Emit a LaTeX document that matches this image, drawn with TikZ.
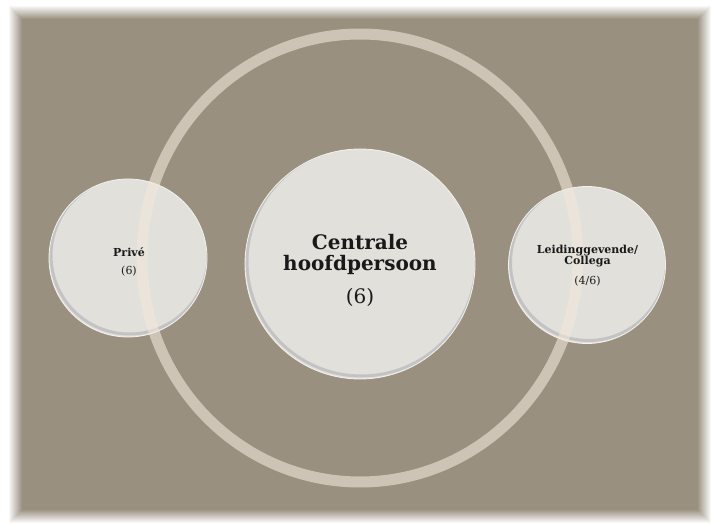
\documentclass[tikz,border=0pt]{standalone}
\usepackage{fontspec}
\setmainfont{DejaVu Serif}
\usepackage{tikz}
\definecolor{achter}{RGB}{154,144,128}
\definecolor{bol}{RGB}{226,224,219}
\definecolor{rand}{RGB}{244,242,236}
\definecolor{schaduw}{RGB}{165,165,176}
\definecolor{kring}{RGB}{240,232,218}
\tikzset{
bubble/.style={circle,minimum size=#1,inner sep=0pt,fill=bol,draw=rand,line width=.8pt,
  path picture={\draw[schaduw,line width=3pt,opacity=.5] ([xshift=1.5pt,yshift=2.5pt]path picture bounding box.center) circle [radius=#1/2-.5pt];}},
kringlijn/.style={draw=kring,line width=11pt,draw opacity=.6},
tekst/.style={align=center,inner sep=0pt,text=black!90},
groot/.style={tekst,font=\fontsize{20}{21.5}\selectfont},
klein/.style={tekst,font=\fontsize{11}{11.5}\selectfont}
}

\begin{document}
\begin{tikzpicture}[x=1pt,y=-1pt]
\useasboundingbox (0,0) rectangle (712,524);
% achtergrond met vage rand
\fill[white] (0,0) rectangle (712,524);
\fill[achter] (8,5) rectangle (712,524);
\foreach \d [evaluate=\d as \o using 1-\d/14] in {0,...,13}
  \draw[white,opacity=\o,line width=1pt] (8.5+\d,5.5+\d) rectangle (711.5-\d,523.5-\d);

\node[bubble=230pt] (centraal) at (360,264) {};
\node[bubble=158pt] (prive) at (128,258) {};
\node[bubble=157pt] (leiding) at (587,265) {};

\draw[kringlijn] (360,258) ellipse [x radius=218pt, y radius=224pt];

\node[groot] (centraal-t) at (360,270) {\textbf{Centrale}\\\textbf{hoofdpersoon}\\[11pt](6)};
\node[klein] (prive-t) at (129,262) {\textbf{Privé}\\[6.5pt](6)};
\node[klein] (leiding-t) at (587.5,265.5) {\textbf{Leidinggevende/}\\\textbf{Collega}\\[8.5pt](4/6)};
\end{tikzpicture}
\end{document}
